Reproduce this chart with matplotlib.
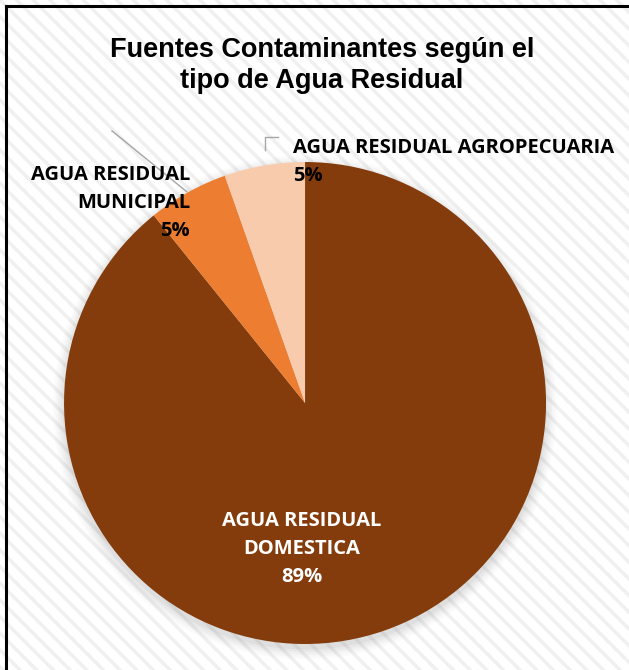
import matplotlib.pyplot as plt
from matplotlib.patches import Rectangle, Circle
from matplotlib.lines import Line2D

# ---------------- data ----------------
categories = ['AGUA RESIDUAL\nDOMESTICA', 'AGUA RESIDUAL\nMUNICIPAL', 'AGUA RESIDUAL AGROPECUARIA']
values = [89.2, 5.4, 5.4]
colors = ['#843C0C', '#ED7D31', '#F8CBAD']
title = 'Fuentes Contaminantes según el\ntipo de Agua Residual'

LABEL_FONT = ['Open Sans', 'DejaVu Sans']
plt.rcParams['hatch.linewidth'] = 2.5

fig = plt.figure(figsize=(6.29, 6.70), dpi=100)
fig.patch.set_facecolor('white')

# striped chart-area background
fig.patches.append(Rectangle((0, 0), 1, 1, transform=fig.transFigure,
                             facecolor='white', edgecolor='#f0f0f0',
                             hatch='\\\\', lw=0, zorder=-10))

# frame (left and top edges)
fig.add_artist(Line2D([0.0103, 0.0103], [0, 0.991], transform=fig.transFigure,
                      color='black', lw=2.2))
fig.add_artist(Line2D([0.0103, 1.0], [0.991, 0.991], transform=fig.transFigure,
                      color='black', lw=2.2))

fig.text(0.512, 0.902, title, ha='center', va='center', fontsize=19.5,
         fontweight='bold', family='Liberation Sans', linespacing=1.25)

ax = fig.add_axes([0.1018, 0.0388, 0.7663, 0.7194])
ax.axis('off')
ax.patch.set_alpha(0)

wedges, _ = ax.pie(values, colors=colors, startangle=90, counterclock=False,
                   radius=1.0, wedgeprops=dict(linewidth=0))
for w in wedges:
    w.set_zorder(2)

ax.set_xlim(-1.0, 1.0)
ax.set_ylim(-1.0, 1.0)
ax.set_aspect('equal')

# soft drop shadow under the pie
for r, a in [(1.045, 0.03), (1.035, 0.04), (1.025, 0.05), (1.015, 0.06), (1.005, 0.08)]:
    ax.add_patch(Circle((0, -0.018), r, color='#808080', alpha=a, lw=0,
                        zorder=0, clip_on=False))

pct = [f'{v:.0f}%' for v in values]
lbl = dict(fontsize=14.5, fontweight='bold', family=LABEL_FONT,
           linespacing=1.55, zorder=5, clip_on=False)

# DOMESTICA label inside the slice
ax.text(-0.012, -0.606, f'{categories[0]}\n{pct[0]}', ha='center', va='center',
        color='white', **lbl)

# MUNICIPAL label with leader line
ax.plot([-0.801, -0.490], [1.129, 0.876], color='#a6a6a6', lw=1.0,
        clip_on=False, zorder=3)
ax.text(-0.477, 0.830, f'{categories[1]}\n{pct[1]}', ha='right', va='center',
        color='black', multialignment='right', **lbl)

# AGROPECUARIA label with bracket leader
ax.plot([-0.166, -0.166, -0.112], [1.050, 1.104, 1.104], color='#a6a6a6',
        lw=1.0, clip_on=False, zorder=3)
ax.text(-0.05, 1.000, f'{categories[2]}\n{pct[2]}', ha='left', va='center',
        color='black', multialignment='left', **lbl)

fig.savefig('out.png', dpi=100)
